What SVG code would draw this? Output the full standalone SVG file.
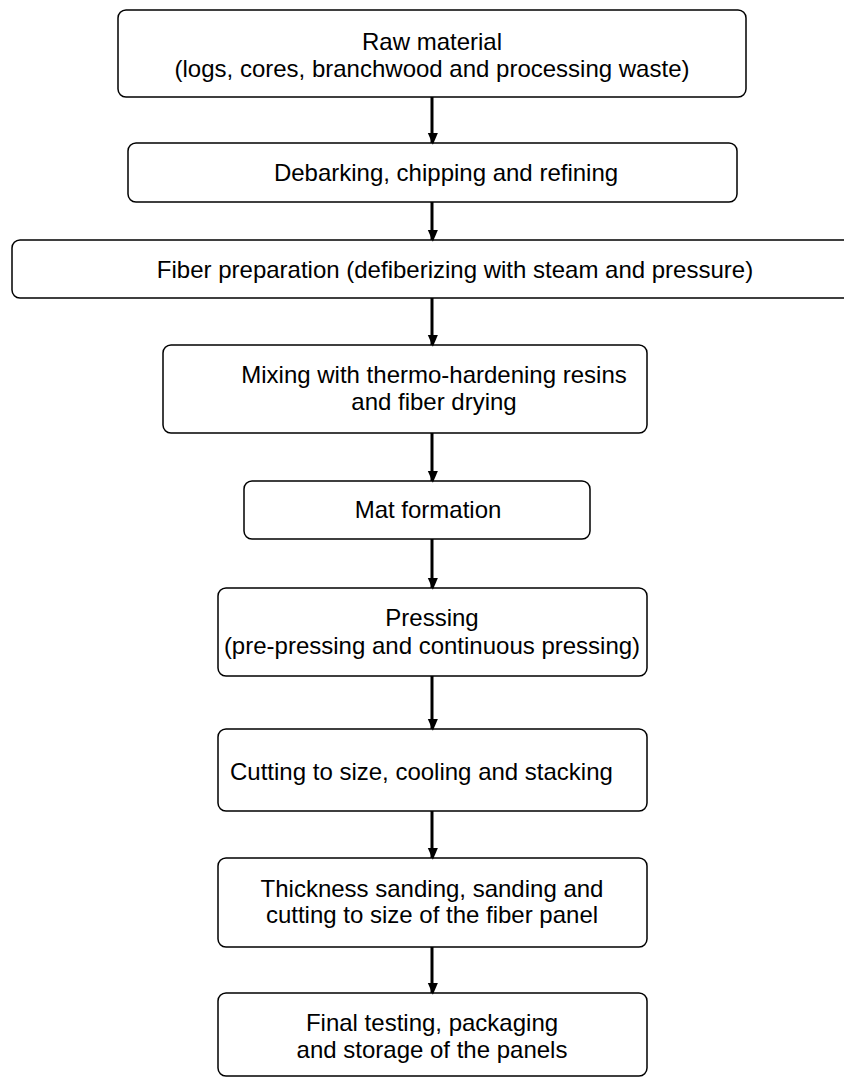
<svg xmlns="http://www.w3.org/2000/svg" width="844" height="1077" viewBox="0 0 844 1077">
  <style>
    .box { fill: #ffffff; stroke: #000000; stroke-width: 1.5; }
    .lbl { font-family: "Liberation Sans", Arial, sans-serif; font-size: 24px; fill: #000000; text-anchor: middle; }
    .lft { text-anchor: start; }
    .conn { stroke: #000000; stroke-width: 3; fill: none; }
  </style>
  <defs>
    <marker id="arrow" markerWidth="12" markerHeight="14" refX="12" refY="7" orient="auto" markerUnits="userSpaceOnUse" viewBox="0 0 14 12">
      <path d="M0,0 L14,6 L0,12 Z" fill="#000000"/>
    </marker>
  </defs>
  <rect width="844" height="1077" fill="#ffffff"/>

  <g id="raw-material">
    <rect class="box" x="118" y="10" width="628" height="87" rx="8"/>
    <text class="lbl" x="432" y="50">Raw material</text>
    <text class="lbl" x="432" y="77">(logs, cores, branchwood and processing waste)</text>
  </g>

  <g id="debarking">
    <rect class="box" x="128" y="143" width="609" height="59" rx="8"/>
    <text class="lbl" x="446" y="181">Debarking, chipping and refining</text>
  </g>

  <g id="fiber-preparation">
    <rect class="box" x="12" y="240" width="880" height="58" rx="8"/>
    <text class="lbl" x="455" y="278">Fiber preparation (defiberizing with steam and pressure)</text>
  </g>

  <g id="mixing">
    <rect class="box" x="163" y="345" width="484" height="88" rx="8"/>
    <text class="lbl" x="434" y="383">Mixing with thermo-hardening resins</text>
    <text class="lbl" x="434" y="410">and fiber drying</text>
  </g>

  <g id="mat-formation">
    <rect class="box" x="244" y="481" width="346" height="58" rx="8"/>
    <text class="lbl" x="428" y="518">Mat formation</text>
  </g>

  <g id="pressing">
    <rect class="box" x="218" y="588" width="429" height="88" rx="8"/>
    <text class="lbl" x="432" y="626">Pressing</text>
    <text class="lbl" x="432" y="654">(pre-pressing and continuous pressing)</text>
  </g>

  <g id="cutting">
    <rect class="box" x="218" y="729" width="429" height="82" rx="8"/>
    <text class="lbl lft" x="230" y="780">Cutting to size, cooling and stacking</text>
  </g>

  <g id="sanding">
    <rect class="box" x="218" y="858" width="429" height="89" rx="8"/>
    <text class="lbl" x="432" y="897">Thickness sanding, sanding and</text>
    <text class="lbl" x="432" y="923">cutting to size of the fiber panel</text>
  </g>

  <g id="final-testing">
    <rect class="box" x="218" y="993" width="429" height="83" rx="8"/>
    <text class="lbl" x="432" y="1031">Final testing, packaging</text>
    <text class="lbl" x="432" y="1058">and storage of the panels</text>
  </g>

  <g id="connectors">
    <line class="conn" x1="432" y1="97" x2="432" y2="143" marker-end="url(#arrow)"/>
    <line class="conn" x1="432" y1="202" x2="432" y2="240" marker-end="url(#arrow)"/>
    <line class="conn" x1="432" y1="298" x2="432" y2="345" marker-end="url(#arrow)"/>
    <line class="conn" x1="432" y1="433" x2="432" y2="481" marker-end="url(#arrow)"/>
    <line class="conn" x1="432" y1="539" x2="432" y2="588" marker-end="url(#arrow)"/>
    <line class="conn" x1="432" y1="676" x2="432" y2="729" marker-end="url(#arrow)"/>
    <line class="conn" x1="432" y1="811" x2="432" y2="858" marker-end="url(#arrow)"/>
    <line class="conn" x1="432" y1="947" x2="432" y2="993" marker-end="url(#arrow)"/>
  </g>
</svg>
